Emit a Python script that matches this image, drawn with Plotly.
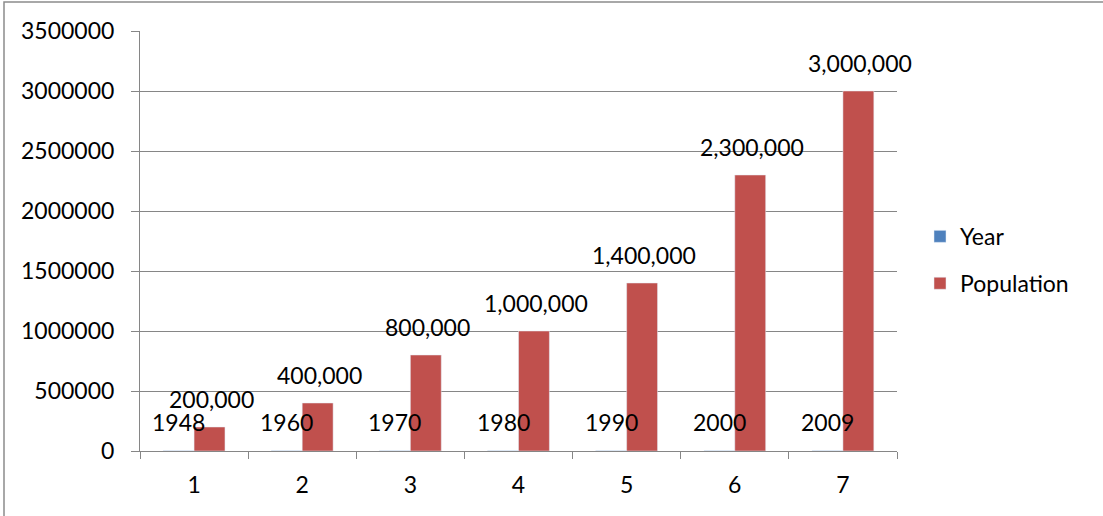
import plotly.graph_objects as go

# Chart data
categories = ["1", "2", "3", "4", "5", "6", "7"]
years = [1948, 1960, 1970, 1980, 1990, 2000, 2009]
population = [200000, 400000, 800000, 1000000, 1400000, 2300000, 3000000]
y_ticks = [0, 500000, 1000000, 1500000, 2000000, 2500000, 3000000, 3500000]

W, H = 1103, 516
ML, MR, MT, MB = 140, 206, 31, 65
FONT = "Lato"
FS = 23
GRID = "#868686"
BLUE = "#4F81BD"
RED = "#C0504D"

plot_w = W - ML - MR
plot_h = H - MT - MB
cat_w = plot_w / len(categories)
bar_w = cat_w / 3.5
shift = bar_w / 2

fig = go.Figure()
fig.add_trace(go.Bar(x=categories, y=years, name="Year", marker_color=BLUE,
                     legendgroup="a"))
fig.add_trace(go.Bar(x=categories, y=population, name="Population",
                     marker_color=RED, legendgroup="b"))

# data labels (category positions given by index)
for i, (yv, pv) in enumerate(zip(years, population)):
    fig.add_annotation(x=i, y=yv, text=str(yv), showarrow=False,
                       xshift=-shift, yshift=29, yanchor="middle",
                       font=dict(family=FONT, size=FS, color="black"))
    fig.add_annotation(x=i, y=pv, text=f"{pv:,}", showarrow=False,
                       xshift=shift + 2, yshift=28, yanchor="middle",
                       font=dict(family=FONT, size=FS, color="black"))

# outer chart border
fig.add_shape(type="rect", xref="paper", yref="paper",
              x0=(4 - ML) / plot_w, x1=(W + 10 - ML) / plot_w,
              y0=-(MB + 10) / plot_h, y1=1 + (MT - 2) / plot_h,
              line=dict(color="#8c8c8c", width=1.5), layer="below")

fig.update_layout(
    width=W, height=H,
    margin=dict(l=ML, r=MR, t=MT, b=MB, pad=0),
    barmode="group", bargap=1 - 2 / 3.5, bargroupgap=0,
    plot_bgcolor="white", paper_bgcolor="white",
    font=dict(family=FONT, size=FS, color="black"),
    legend=dict(x=(920 - ML) / plot_w, y=0.455, xanchor="left", yanchor="middle",
                traceorder="grouped", tracegroupgap=14,
                font=dict(family=FONT, size=FS, color="black"),
                bgcolor="rgba(0,0,0,0)"),
    xaxis=dict(type="category", range=[-0.5, len(categories) - 0.5],
               tickson="boundaries", ticks="outside",
               ticklen=7, tickcolor=GRID, showline=True, linecolor=GRID,
               linewidth=1, showgrid=False, ticklabelstandoff=13),
    yaxis=dict(range=[0, 3500000], tickvals=y_ticks,
               ticktext=[str(v) for v in y_ticks], ticks="outside",
               ticklen=8, tickcolor=GRID, showline=True, linecolor=GRID,
               linewidth=1, gridcolor=GRID, gridwidth=1, zeroline=False,
               ticklabelstandoff=12),
)

fig.write_html("out.html")
